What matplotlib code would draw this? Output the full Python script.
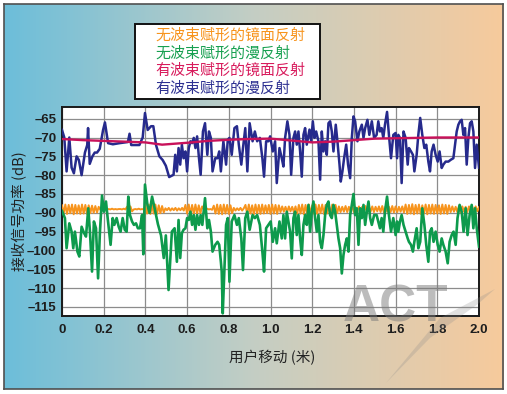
"""Received power vs. user movement, with and without beamforming."""

import matplotlib

matplotlib.use("Agg")
import matplotlib.pyplot as plt
import numpy as np
from matplotlib.patches import Polygon, Rectangle

# ---- data ----
legend_labels = [
    "无波束赋形的镜面反射",
    "无波束赋形的漫反射",
    "有波束赋形的镜面反射",
    "有波束赋形的漫反射",
]

x_ticks = [0, 0.2, 0.4, 0.6, 0.8, 1.0, 1.2, 1.4, 1.6, 1.8, 2.0]
x_tick_labels = ["0", "0.2", "0.4", "0.6", "0.8", "1.0", "1.2", "1.4", "1.6", "1.8", "2.0"]
y_ticks = [-115, -110, -105, -100, -95, -90, -85, -80, -75, -70, -65]
y_tick_labels = ["–115", "–110", "–105", "–100", "–95", "–90", "–85", "–80", "–75", "–70", "–65"]

# no beamforming, specular (fast ripple around -89 dB)
orange = [
    -88.0, -90.2, -87.8, -90.3, -87.9, -90.1, -87.8, -90.4, -87.9, -90.2, -88.0, -90.3,
    -87.8, -90.2, -87.9, -90.3, -88.0, -90.1, -88.1, -90.0, -88.2, -89.9, -88.4,
    -89.2, -89.0, -89.1, -88.9, -89.1, -89.0, -89.1, -88.9, -89.1, -89.0, -89.1, -89.0,
    -89.0, -89.1, -88.9, -89.1,
    -88.4, -89.7, -88.3, -89.6,
    -89.1, -89.0, -89.1, -88.9, -89.1, -89.0, -89.1,
    -88.0, -90.2, -87.8, -90.3, -87.9, -90.2, -87.8, -90.3, -88.0, -90.1, -88.2, -89.9,
    -88.8, -89.3, -88.7, -89.4, -88.8, -89.3, -88.7, -89.4, -88.8, -89.3, -88.7, -89.4,
    -87.9, -90.2, -87.8, -90.4, -87.9, -90.3, -87.8, -90.2, -88.0, -90.1, -88.3,
    -89.0, -89.1, -88.9, -89.1, -89.0, -89.2,
    -88.1, -90.2, -87.8, -90.3, -87.9, -90.4, -87.8, -90.2, -87.9, -90.3, -88.0, -90.1,
    -88.7, -89.4, -88.8, -89.3, -88.7, -89.4, -88.8,
    -87.9, -90.3, -87.8, -90.2, -88.0, -90.4, -87.8, -90.2, -87.9, -90.3, -87.8, -90.2,
    -88.0, -90.1, -87.9, -90.3, -87.8, -90.2, -87.9, -90.3, -88.0,
    -89.8, -88.3, -89.7, -88.4, -89.8, -88.3, -89.6, -88.4, -89.8, -88.3,
    -90.3, -87.9, -90.2, -87.8, -90.4, -87.9, -90.2, -87.8, -90.3, -88.0, -90.2, -87.8,
    -90.3, -87.9, -90.1, -87.8, -90.3, -87.9, -90.2, -88.0, -90.3, -87.8, -90.2, -87.9, -90.1,
    -88.3, -89.8, -88.4, -89.7, -88.2, -89.8, -88.4, -89.6, -88.3, -89.8, -88.5, -89.7,
    -88.3, -89.8, -88.4, -89.7, -88.2, -89.9, -88.4, -89.7, -88.3, -89.8, -88.4, -89.6, -88.3,
    -89.8, -88.2, -89.9, -88.3, -89.7, -88.4, -89.8, -88.2, -89.9, -88.3, -89.8, -88.4,
    -89.7, -88.3, -89.9,
    -87.8, -90.3, -87.9, -90.2, -87.7, -90.4, -87.9, -90.2, -87.8, -90.3, -88.0, -90.2,
    -87.8, -90.4, -87.9, -90.2, -87.8, -90.3, -87.9, -90.2, -88.0, -90.3, -87.8, -90.2,
    -87.9, -90.3, -88.0,
    -89.8, -88.3, -89.7, -88.4, -89.8, -88.2, -89.9, -88.3, -89.7, -88.4, -89.8, -88.3,
    -89.7, -88.4, -89.8, -88.3, -89.6, -88.5,
]

# no beamforming, diffuse
x_green = [
    0.000, 0.014, 0.022, 0.035, 0.046, 0.054, 0.062, 0.074, 0.083, 0.094, 0.106, 0.115,
    0.126, 0.134, 0.144, 0.153, 0.163, 0.173, 0.182, 0.192, 0.201, 0.211, 0.219, 0.233,
    0.243, 0.251, 0.262, 0.272, 0.281, 0.291, 0.301, 0.310, 0.318, 0.326, 0.336, 0.345,
    0.355, 0.364, 0.374, 0.384, 0.390, 0.398, 0.410, 0.420, 0.432, 0.445, 0.460, 0.475,
    0.488, 0.498, 0.511, 0.527, 0.540, 0.551, 0.559, 0.567, 0.575, 0.583, 0.592, 0.600,
    0.608, 0.616, 0.624, 0.632, 0.640, 0.648, 0.657, 0.665, 0.673, 0.686, 0.697, 0.705,
    0.714, 0.722, 0.735, 0.746, 0.754, 0.762, 0.766, 0.771, 0.787, 0.795, 0.803, 0.814,
    0.827, 0.839, 0.848, 0.860, 0.868, 0.879, 0.889, 0.900, 0.914, 0.925, 0.936, 0.949,
    0.961, 0.969, 0.979, 0.990, 1.001, 1.011, 1.022, 1.030, 1.043, 1.054, 1.062, 1.070,
    1.078, 1.086, 1.094, 1.102, 1.110, 1.118, 1.126, 1.134, 1.142, 1.150, 1.158, 1.166,
    1.174, 1.182, 1.190, 1.198, 1.206, 1.214, 1.222, 1.230, 1.238, 1.246, 1.254, 1.262,
    1.270, 1.278, 1.286, 1.294, 1.302, 1.310, 1.318, 1.326, 1.334, 1.342, 1.350, 1.358,
    1.366, 1.374, 1.382, 1.390, 1.398, 1.406, 1.414, 1.422, 1.430, 1.438, 1.446, 1.454,
    1.462, 1.470, 1.478, 1.486, 1.497, 1.509, 1.517, 1.525, 1.533, 1.541, 1.549, 1.559,
    1.568, 1.578, 1.589, 1.600, 1.607, 1.613, 1.621, 1.629, 1.638, 1.648, 1.658, 1.664,
    1.674, 1.683, 1.690, 1.701, 1.709, 1.718, 1.728, 1.738, 1.747, 1.757, 1.765, 1.773,
    1.782, 1.792, 1.802, 1.811, 1.821, 1.829, 1.840, 1.850, 1.859, 1.869, 1.878, 1.888,
    1.897, 1.907, 1.917, 1.926, 1.936, 1.945, 1.955, 1.965, 1.973, 1.981, 1.989, 2.000,
]
green = [
    -89.5, -91.4, -99.4, -92.8, -95.0, -99.4, -95.0, -100.3, -101.6, -93.7, -95.4, -96.3,
    -88.8, -95.0, -105.6, -92.3, -94.1, -107.4, -95.0, -85.4, -89.7, -87.0, -91.4, -98.5,
    -91.4, -93.2, -91.4, -93.7, -95.0, -91.4, -94.5, -95.0, -85.7, -90.6, -92.3, -93.2,
    -92.8, -94.1, -94.1, -90.6, -101.0, -82.5, -88.0, -90.0, -85.7, -89.0, -93.0, -96.0,
    -102.0, -96.0, -110.5, -95.0, -94.1, -103.0, -91.9, -102.0, -95.4, -94.5, -94.1, -91.4,
    -91.9, -89.7, -93.2, -90.6, -94.5, -90.6, -93.2, -90.6, -93.2, -86.1, -94.1, -91.9,
    -95.0, -100.3, -98.5, -97.7, -98.5, -103.0, -105.6, -116.7, -93.2, -91.4, -108.3, -92.3,
    -90.6, -93.2, -91.4, -96.8, -105.2, -91.4, -89.7, -94.5, -90.6, -91.4, -90.6, -93.2,
    -100.3, -105.6, -94.1, -93.2, -92.3, -97.7, -94.1, -98.1, -92.3, -96.8, -90.6, -96.8,
    -89.7, -92.3, -95.0, -102.1, -91.4, -89.7, -95.9, -90.6, -96.8, -101.2, -93.2, -90.6,
    -93.2, -87.9, -95.0, -89.7, -87.0, -91.4, -95.0, -90.6, -97.7, -99.4, -95.9, -90.6,
    -87.9, -87.0, -90.6, -91.4, -87.9, -89.7, -93.2, -96.8, -99.4, -106.1, -101.2, -98.5,
    -96.8, -100.3, -90.6, -87.9, -85.0, -90.6, -88.8, -98.5, -88.8, -91.4, -87.9, -93.2,
    -89.7, -87.0, -91.4, -93.2, -90.6, -90.6, -92.3, -94.1, -91.4, -95.0, -89.7, -85.7,
    -90.6, -95.0, -91.4, -95.9, -92.3, -95.0, -92.3, -90.6, -93.2, -95.0, -96.8, -97.7,
    -98.5, -100.3, -97.7, -94.1, -99.4, -97.7, -88.8, -93.2, -98.5, -103.0, -95.0, -94.1,
    -97.7, -95.0, -98.5, -100.3, -96.8, -98.5, -100.3, -103.4, -97.7, -95.9, -95.0, -98.5,
    -91.4, -87.9, -89.7, -95.0, -88.8, -95.9, -90.6, -87.9, -94.1, -88.8, -94.0, -99.0,
]

# beamforming, specular
x_red = [0, 0.1, 0.2, 0.3, 0.4, 0.48, 0.6, 0.7, 0.8, 0.9, 1.0, 1.1, 1.2, 1.3, 1.4, 1.5, 1.6, 1.7, 1.8, 1.9, 2.0]
red = [-70.4, -70.7, -70.9, -71.1, -71.3, -71.9, -71.4, -70.9, -70.6, -70.4, -70.3, -70.8, -71.3, -71.1, -70.7,
       -70.3, -70.2, -70.1, -70.0, -70.0, -70.0]

# beamforming, diffuse
x_blue = [
    0.000, 0.011, 0.022, 0.035, 0.046, 0.057, 0.070, 0.081, 0.094, 0.110, 0.121, 0.125,
    0.133, 0.146, 0.157, 0.168, 0.181, 0.197, 0.206, 0.221, 0.244, 0.276, 0.316, 0.324,
    0.332, 0.371, 0.387, 0.398, 0.411, 0.427, 0.438, 0.451, 0.467, 0.483, 0.498, 0.514,
    0.535, 0.543, 0.551, 0.559, 0.567, 0.575, 0.583, 0.592, 0.600, 0.608, 0.616, 0.624,
    0.632, 0.640, 0.648, 0.657, 0.665, 0.676, 0.686, 0.697, 0.705, 0.714, 0.722, 0.735,
    0.746, 0.754, 0.762, 0.774, 0.787, 0.795, 0.803, 0.814, 0.827, 0.839, 0.848, 0.860,
    0.868, 0.879, 0.889, 0.900, 0.914, 0.925, 0.936, 0.949, 0.961, 0.969, 0.979, 0.990,
    0.998, 1.011, 1.022, 1.030, 1.043, 1.054, 1.062, 1.070, 1.081, 1.091, 1.099, 1.110,
    1.118, 1.126, 1.134, 1.142, 1.150, 1.158, 1.166, 1.174, 1.187, 1.195, 1.203, 1.211,
    1.219, 1.230, 1.238, 1.246, 1.254, 1.262, 1.270, 1.278, 1.286, 1.294, 1.302, 1.313,
    1.321, 1.331, 1.337, 1.345, 1.353, 1.363, 1.372, 1.382, 1.390, 1.398, 1.406, 1.417,
    1.426, 1.438, 1.446, 1.454, 1.465, 1.474, 1.486, 1.497, 1.509, 1.517, 1.525, 1.533,
    1.541, 1.549, 1.559, 1.568, 1.578, 1.589, 1.600, 1.607, 1.613, 1.621, 1.629, 1.638,
    1.648, 1.658, 1.664, 1.674, 1.683, 1.690, 1.701, 1.709, 1.718, 1.728, 1.738, 1.747,
    1.757, 1.765, 1.773, 1.782, 1.792, 1.802, 1.811, 1.821, 1.829, 1.840, 1.853, 1.865,
    1.877, 1.885, 1.893, 1.901, 1.909, 1.917, 1.925, 1.933, 1.941, 1.949, 1.957, 1.965,
    1.973, 1.981, 1.989, 2.000,
]
blue = [
    -68.0, -70.0, -79.0, -70.0, -78.0, -79.5, -75.0, -76.0, -80.0, -74.0, -72.0, -67.5,
    -77.0, -75.0, -74.0, -74.0, -73.0, -68.0, -66.0, -71.5, -71.8, -71.5, -71.2, -69.0,
    -72.0, -72.0, -70.0, -63.5, -68.0, -67.0, -67.0, -72.0, -75.0, -76.0, -77.5, -80.5,
    -79.9, -74.6, -79.0, -72.8, -77.2, -71.9, -75.5, -73.7, -79.0, -72.8, -71.0, -71.5,
    -70.1, -72.8, -69.7, -75.5, -79.9, -68.4, -66.2, -74.6, -68.4, -70.1, -79.0, -75.5,
    -75.5, -73.7, -79.0, -71.0, -77.2, -70.6, -70.1, -74.6, -67.5, -67.0, -71.9, -77.2,
    -72.8, -67.5, -79.0, -66.2, -71.0, -68.4, -71.0, -70.1, -75.5, -80.4, -71.0, -71.0,
    -69.7, -73.7, -71.0, -82.1, -72.8, -75.5, -77.7, -70.1, -65.7, -69.3, -79.9, -70.1,
    -68.4, -71.9, -68.4, -73.7, -80.4, -69.3, -67.5, -71.9, -67.9, -71.0, -65.7, -70.1,
    -68.4, -71.0, -81.2, -68.4, -73.7, -71.0, -74.6, -66.2, -65.7, -68.4, -73.7, -66.6,
    -71.0, -77.2, -81.7, -79.0, -75.5, -71.9, -77.2, -80.8, -70.1, -64.4, -65.7, -71.0,
    -68.4, -66.6, -70.1, -67.5, -65.3, -69.3, -65.7, -70.1, -69.3, -65.7, -68.4, -67.5,
    -70.1, -66.6, -63.2, -69.3, -75.5, -69.3, -68.8, -75.5, -69.3, -70.1, -82.1, -68.4,
    -70.1, -77.2, -72.8, -73.7, -74.6, -79.0, -74.6, -69.3, -64.8, -69.3, -72.8, -71.9,
    -76.4, -79.0, -73.7, -71.9, -74.6, -76.4, -73.7, -78.1, -77.2, -76.4, -76.4, -75.9,
    -75.5, -71.9, -68.4, -66.6, -65.7, -65.3, -69.3, -67.5, -77.2, -70.1, -66.2, -65.7,
    -68.4, -78.1, -71.9, -78.0,
]

# ---- styling ----
W, H = 507, 394
CJK = ["Noto Sans CJK SC", "DejaVu Sans"]
NUM = ["Liberation Sans", "DejaVu Sans"]

fig = plt.figure(figsize=(W / 100, H / 100), dpi=100)
fig.patch.set_facecolor("white")

# gradient panel with thin dark frame
bg = fig.add_axes([4 / W, 1 - 389 / H, 499 / W, 385 / H], zorder=0)
stops = np.array([[108, 190, 218], [196, 206, 196], [247, 202, 156]]) / 255.0
t = np.linspace(0, 1, 400)
grad = np.stack([np.interp(t, [0, 0.5, 1], stops[:, k]) for k in range(3)], axis=-1)
bg.imshow(grad[np.newaxis, :, :], aspect="auto", extent=[0, 1, 0, 1])
bg.set_xticks([])
bg.set_yticks([])
for s in bg.spines.values():
    s.set_color("#505050")
    s.set_linewidth(1.2)

ax = fig.add_axes([62 / W, 1 - 316 / H, 417 / W, 209 / H], zorder=2)
ax.set_facecolor("white")

x_orange = np.linspace(0, 2.0, len(orange))
ax.plot(x_orange, orange, color="#f7941d", lw=1.4, zorder=3)
ax.plot(x_green, green, color="#0d9a4c", lw=1.9, zorder=4)
ax.plot(x_blue, blue, color="#262a8c", lw=1.8, zorder=5)
ax.plot(x_red, red, color="#c8115a", lw=1.7, zorder=6)

ax.set_xlim(0, 2.0)
ax.set_ylim(-117.4, -61.9)
ax.set_xticks(x_ticks)
ax.set_xticklabels(x_tick_labels)
ax.set_yticks(y_ticks)
ax.set_yticklabels(y_tick_labels)
ax.grid(True, color="#8c8c8c", lw=0.9)
ax.set_axisbelow(True)
ax.tick_params(axis="x", length=0, pad=6, colors="#1e1e1e")
ax.tick_params(axis="y", length=0, pad=4, colors="#1e1e1e")
for lab in ax.get_xticklabels() + ax.get_yticklabels():
    lab.set_family(NUM)
    lab.set_fontweight("bold")
    lab.set_fontsize(9.5)
for s in ax.spines.values():
    s.set_color("#1a1a1a")
    s.set_linewidth(1.4)

fig.text(20 / W, 1 - 211 / H, "接收信号功率 (dB)", rotation=90, ha="center", va="center",
         family=CJK, fontsize=10.5, color="#222222")
fig.text(272 / W, 1 - 358 / H, "用户移动 (米)", ha="center", va="center",
         family=CJK, fontsize=10.5, color="#222222")

# legend box, text only
fig.add_artist(Rectangle((135 / W, 1 - 99 / H), 185 / W, 75 / H, transform=fig.transFigure,
                         facecolor="white", edgecolor="#111111", lw=1.4, zorder=3))
legend_colors = ["#f7941d", "#17a050", "#d81b5c", "#2e3192"]
for k, (lab, col) in enumerate(zip(legend_labels, legend_colors)):
    fig.text(155 / W, 1 - (35 + 18 * k) / H, lab, color=col, family=CJK, fontsize=10.8,
             ha="left", va="center", zorder=4)

# ACT watermark
fig.add_artist(Polygon([(386 / W, 1 - 383 / H), (440 / W, 1 - 318 / H), (495 / W, 1 - 289 / H),
                        (478 / W, 1 - 304 / H), (430 / W, 1 - 338 / H)],
                       closed=True, transform=fig.transFigure, facecolor="#8a8a8a",
                       edgecolor="none", alpha=0.25, zorder=6))
fig.text(395 / W, 1 - 322 / H, "ACT", family=["Liberation Sans", "DejaVu Sans"], fontweight="bold",
         fontsize=37, color="#7a7a7a", alpha=0.5, ha="center", va="baseline", zorder=7)

plt.savefig("out.png", dpi=100)
plt.close()
